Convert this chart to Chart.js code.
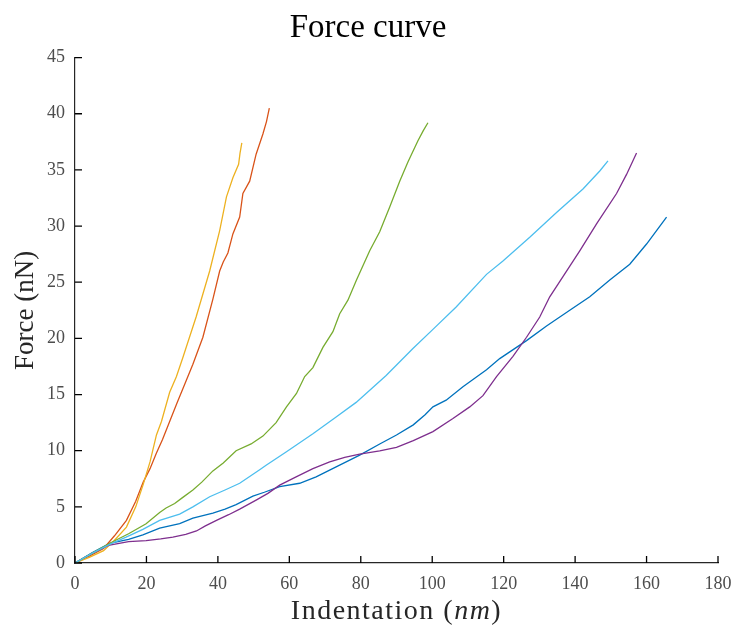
<!DOCTYPE html>
<html>
<head>
<meta charset="utf-8">
<title>Force curve</title>
<script src="https://cdn.jsdelivr.net/npm/chart.js@4.4.1/dist/chart.umd.min.js"></script>
<style>
  html, body { margin: 0; padding: 0; background: #fff; }
  #wrap { width: 736px; height: 628px; }
</style>
</head>
<body>
<div id="wrap"><canvas id="forceChart" width="736" height="628"></canvas></div>
<script>
// indentation (nm) and force (nN) for each measured curve
const indent1 = [0, 5, 9.7, 15, 19, 23.7, 29.3, 33, 38.6, 42, 45.1, 49.8, 53, 57.3, 62.9, 67.5, 73.1, 79.7, 85.3, 90, 94.7, 98, 100.2, 103.9, 108.6, 115.2, 118.9, 126.4, 132, 138.5, 144.1, 149.7, 155.3, 160, 165.6];
const force1  = [0, 0.95, 1.75, 2.1, 2.5, 3.1, 3.5, 4.0, 4.45, 4.8, 5.2, 5.96, 6.3, 6.8, 7.1, 7.67, 8.56, 9.6, 10.6, 11.4, 12.3, 13.2, 13.9, 14.5, 15.7, 17.2, 18.2, 19.8, 21.1, 22.5, 23.7, 25.2, 26.6, 28.4, 30.8];

const indent2 = [0, 4, 8, 11, 14.4, 17, 19.1, 21, 22.8, 24.5, 26.5, 28.5, 31.2, 33, 35.8, 38.6, 40.5, 41.5, 42.8, 44.2, 46.1, 47, 48.9, 50.7, 52.6, 53.6, 54.4];
const force2  = [0, 0.6, 1.3, 2.4, 3.8, 5.5, 7.2, 8.4, 9.8, 11.0, 12.6, 14.2, 16.3, 17.7, 20.1, 23.5, 26.0, 26.8, 27.6, 29.3, 30.8, 32.9, 34.0, 36.4, 38.2, 39.3, 40.5];

const indent3 = [0, 4, 8, 11, 14.4, 17, 19.1, 21, 22.8, 24.2, 26.5, 28.4, 30.2, 33.9, 37.7, 40.5, 42.4, 44.2, 45.8, 46.2, 46.7];
const force3  = [0, 0.5, 1.1, 2.0, 3.2, 5.0, 7.0, 9.0, 11.4, 12.6, 15.2, 16.6, 18.3, 21.9, 26.0, 29.6, 32.6, 34.3, 35.5, 36.5, 37.4];

const indent4 = [0, 5, 9.7, 15, 19.9, 24, 27.4, 31, 34, 36.5, 39.6, 43, 46.1, 50.7, 54, 57.3, 61.9, 66.6, 71.3, 75.5, 79.7, 85.3, 90, 94.7, 100.2, 105.8, 110.5, 114.2, 118, 122.6, 126.4, 130.1, 132.9, 136.6, 141.3, 146, 151.6, 154.4, 157.2];
const force4  = [0, 0.9, 1.6, 1.9, 2.0, 2.15, 2.3, 2.55, 2.85, 3.3, 3.8, 4.3, 4.8, 5.6, 6.2, 6.93, 7.67, 8.41, 9.0, 9.4, 9.7, 9.98, 10.3, 10.9, 11.7, 12.86, 13.9, 14.9, 16.6, 18.4, 20.1, 21.9, 23.7, 25.5, 27.8, 30.2, 32.9, 34.6, 36.5];

const indent5 = [0, 5, 10, 15, 19.9, 23.7, 25.5, 27.9, 30, 33, 35.5, 38.6, 41.5, 45.1, 49.3, 52.6, 56.3, 59.2, 62, 64.3, 66.6, 69.4, 72.2, 74.1, 76.4, 78.8, 82.5, 85.3, 88.1, 90.9, 93.2, 96, 97.5, 98.8];
const force5  = [0, 0.9, 1.8, 2.6, 3.5, 4.5, 4.9, 5.3, 5.8, 6.5, 7.2, 8.2, 8.9, 10.0, 10.6, 11.3, 12.5, 13.9, 15.1, 16.6, 17.4, 19.2, 20.6, 22.2, 23.4, 25.2, 27.8, 29.5, 31.7, 34.0, 35.7, 37.6, 38.5, 39.2];

const indent6 = [0, 5, 10, 14.3, 19, 23.7, 29.3, 33, 37.7, 42, 46.1, 51.7, 53.5, 59.2, 66.6, 73.1, 78.7, 87.1, 94.6, 100.2, 106.7, 115.2, 119.8, 127.3, 134.8, 142.2, 146.9, 149.2];
const force6  = [0, 0.9, 1.7, 2.3, 3.0, 3.8, 4.35, 5.0, 5.9, 6.5, 7.1, 8.3, 8.7, 9.9, 11.5, 13.0, 14.3, 16.7, 19.1, 20.8, 22.8, 25.7, 26.9, 29.0, 31.2, 33.3, 34.9, 35.8];

const xTicks = [0, 20, 40, 60, 80, 100, 120, 140, 160, 180];
const yTicks = [0, 5, 10, 15, 20, 25, 30, 35, 40, 45];

const curves = [
  [indent1, force1, "#0072BD"],
  [indent2, force2, "#D95319"],
  [indent3, force3, "#EDB120"],
  [indent4, force4, "#7E2F8E"],
  [indent5, force5, "#77AC30"],
  [indent6, force6, "#4DBEEE"],
];

const serif = "'Liberation Serif', 'DejaVu Serif', serif";
const axisColor = "#262626";

// pair up x and y values for the linear x axis
const datasets = curves.map(function (c, i) {
  return {
    data: c[0].map(function (x, k) { return { x: x, y: c[1][k] }; }),
    borderColor: c[2],
    borderWidth: 1.3,
    pointRadius: 0,
    tension: 0,
    fill: false,
    order: curves.length - i,
  };
});

// tick marks point into the plot area
const innerTicksPlugin = {
  id: "innerTicks",
  afterDatasetsDraw(chart) {
    const ctx = chart.ctx;
    const xs = chart.scales.x, ys = chart.scales.y;
    const bottom = ys.getPixelForValue(0);
    const left = xs.getPixelForValue(0);
    const len = 7;
    ctx.save();
    ctx.strokeStyle = "#000";
    ctx.lineWidth = 1.3;
    ctx.beginPath();
    xTicks.forEach(function (v) {
      const px = xs.getPixelForValue(v);
      ctx.moveTo(px, bottom);
      ctx.lineTo(px, bottom - len);
    });
    yTicks.forEach(function (v) {
      const py = ys.getPixelForValue(v);
      ctx.moveTo(left, py);
      ctx.lineTo(left + len, py);
    });
    ctx.stroke();
    ctx.restore();
  }
};

// x title has an italic unit, so it is drawn by hand
const xTitlePlugin = {
  id: "xTitle",
  afterDraw(chart) {
    const ctx = chart.ctx;
    const area = chart.chartArea;
    const parts = [["Indentation (", "normal"], ["nm", "italic"], [")", "normal"]];
    ctx.save();
    ctx.fillStyle = axisColor;
    ctx.textBaseline = "middle";
    ctx.letterSpacing = "1.5px";
    let total = 0;
    parts.forEach(function (p) {
      ctx.font = p[1] + " 28px " + serif;
      total += ctx.measureText(p[0]).width;
    });
    let x = (area.left + area.right) / 2 - total / 2;
    const y = chart.scales.x.top + 49;
    parts.forEach(function (p) {
      ctx.font = p[1] + " 28px " + serif;
      ctx.fillText(p[0], x, y);
      x += ctx.measureText(p[0]).width;
    });
    ctx.restore();
  }
};

new Chart(document.getElementById("forceChart"), {
  type: "line",
  data: { datasets: datasets },
  plugins: [innerTicksPlugin, xTitlePlugin],
  options: {
    responsive: false,
    animation: false,
    devicePixelRatio: 1,
    layout: {
      padding: { top: 0, right: 0, bottom: 0, left: 0 },
    },
    plugins: {
      legend: { display: false },
      tooltip: { enabled: false },
      title: {
        display: true,
        text: "Force curve",
        color: "#000",
        font: { family: serif, size: 33, weight: "normal" },
        padding: { top: 9, bottom: 9 },
      },
    },
    scales: {
      x: {
        type: "linear",
        min: 0,
        max: 180,
        afterBuildTicks: function (scale) {
          scale.ticks = xTicks.map(function (v) { return { value: v }; });
        },
        afterFit: function (scale) {
          scale.height = 65;
          scale.paddingRight = 18;
        },
        border: { display: true, color: axisColor, width: 1.2 },
        grid: { display: false },
        ticks: {
          color: "#4d4d4d",
          padding: 2,
          maxRotation: 0,
          font: { family: serif, size: 18 },
        },
      },
      y: {
        type: "linear",
        min: 0,
        max: 45,
        afterBuildTicks: function (scale) {
          scale.ticks = yTicks.map(function (v) { return { value: v }; });
        },
        afterFit: function (scale) { scale.width = 75; },
        border: { display: true, color: axisColor, width: 1.2 },
        grid: { display: false },
        ticks: {
          color: "#4d4d4d",
          padding: 2,
          font: { family: serif, size: 18 },
        },
        title: {
          display: true,
          text: "Force (nN)",
          color: axisColor,
          font: { family: serif, size: 27 },
          padding: { top: 10, bottom: 0 },
        },
      },
    },
  },
});
</script>
</body>
</html>
